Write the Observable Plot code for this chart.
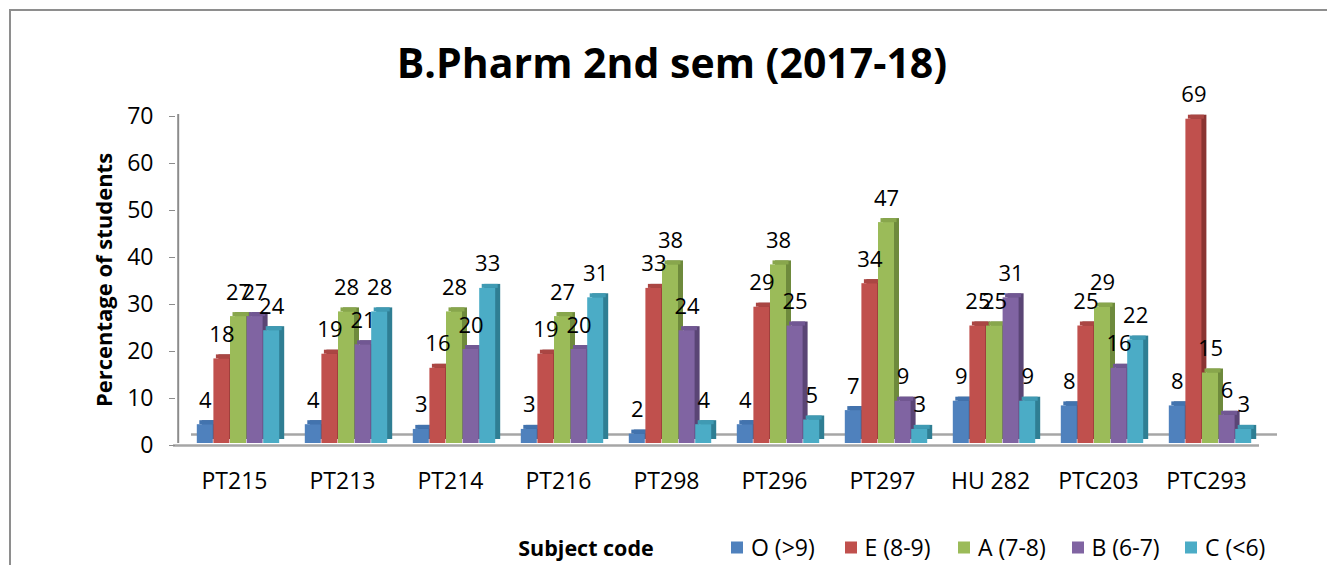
<!DOCTYPE html>
<html>
<head>
<meta charset="utf-8">
<script src="https://cdn.jsdelivr.net/npm/d3@7"></script>
<script src="https://cdn.jsdelivr.net/npm/@observablehq/plot@0.6"></script>
<style>
  html, body { margin: 0; padding: 0; background: #fff; }
  #wrap { position: relative; width: 1327px; height: 565px; overflow: hidden; background: #fff; font-family: "Open Sans", sans-serif; }
  #frame { position: absolute; left: 9px; top: 9px; width: 1340px; height: 600px; border: 2px solid #8e8e8e; box-sizing: border-box; }
  #chart { position: absolute; left: 0; top: 0; }
  #title { position: absolute; left: 672px; top: 62px; transform: translate(-50%, -50%); font-weight: 700; font-size: 41px; white-space: nowrap; color: #000; line-height: 1; }
  #ylabel { position: absolute; left: 103px; top: 280px; transform: translate(-50%, -50%) rotate(-90deg); font-weight: 700; font-size: 22px; white-space: nowrap; line-height: 1; }
  #xlabel { position: absolute; left: 586px; top: 548px; transform: translate(-50%, -50%); font-weight: 700; font-size: 21.5px; white-space: nowrap; line-height: 1; }
  #legend { position: absolute; left: 731px; top: 547px; transform: translateY(-50%); display: flex; align-items: center; font-size: 23px; line-height: 1; }
  #legend .item { display: flex; align-items: center; width: 113.5px; white-space: nowrap; }
  #legend .sw { width: 12px; height: 12px; margin-right: 8px; flex: none; }
</style>
</head>
<body>
<div id="wrap">
  <div id="frame"></div>
  <div id="chart"></div>
  <div id="title">B.Pharm 2nd sem (2017-18)</div>
  <div id="ylabel">Percentage of students</div>
  <div id="xlabel">Subject code</div>
  <div id="legend"></div>
</div>
<script>
const subjects = ["PT215", "PT213", "PT214", "PT216", "PT298", "PT296", "PT297", "HU 282", "PTC203", "PTC293"];
const grades = ["O (>9)", "E (8-9)", "A (7-8)", "B (6-7)", "C (<6)"];
const gradeO = [4, 4, 3, 3, 2, 4, 7, 9, 8, 8];
const gradeE = [18, 19, 16, 19, 33, 29, 34, 25, 25, 69];
const gradeA = [27, 28, 28, 27, 38, 38, 47, 25, 29, 15];
const gradeB = [27, 21, 20, 20, 24, 25, 9, 31, 16, 6];
const gradeC = [24, 28, 33, 31, 4, 5, 3, 9, 22, 3];
const yTicks = [0, 10, 20, 30, 40, 50, 60, 70];

const frontColors = ["#4F81BD", "#C0504D", "#9BBB59", "#8064A2", "#4BACC6"];
const sideColors  = ["#345B8C", "#8A3432", "#6E8A3C", "#5A4575", "#2F7E93"];
const topColors   = ["#4273AE", "#AA4643", "#88A64C", "#715793", "#3F9AB3"];

const series = [gradeO, gradeE, gradeA, gradeB, gradeC];
const rows = [];
series.forEach((vals, gi) => vals.forEach((v, si) => rows.push({subject: subjects[si], grade: grades[gi], value: v})));

const W = 1327, H = 565;
const mL = 181, mR = 60, mT = 114, mB = 122;
const step = (W - mL - mR) / subjects.length;
const barW = 16.6;
const inset = (step - barW) / 2;
const depthX = 5, depthY = 4;

const marks = [];
// floor back edge and wall axis line
marks.push(Plot.ruleY([0], {dy: -9, dx: 10, stroke: "#a6a6a6", strokeWidth: 2.5}));
marks.push(Plot.ruleX([subjects[0]], {x: d => d, y1: 0, y2: 70, dx: -(step / 2 + 6), stroke: "#8c8c8c", strokeWidth: 2}));

grades.forEach((g, i) => {
  const data = rows.filter(r => r.grade === g);
  const off = (i - 2) * barW;
  marks.push(Plot.barY(data, {x: "subject", y: "value", fill: sideColors[i], insetLeft: inset, insetRight: inset, dx: off + depthX, dy: -depthY}));
  marks.push(Plot.barY(data, {x: "subject", y1: "value", y2: "value", fill: topColors[i], insetLeft: inset, insetRight: inset, insetTop: -depthY, dx: off + depthX / 2}));
  marks.push(Plot.barY(data, {x: "subject", y: "value", fill: frontColors[i], insetLeft: inset, insetRight: inset, dx: off}));
});
// floor front edge
marks.push(Plot.ruleY([0], {dy: 2, dx: -8, stroke: "#a6a6a6", strokeWidth: 2.5}));

grades.forEach((g, i) => {
  const data = rows.filter(r => r.grade === g);
  const off = (i - 2) * barW;
  marks.push(Plot.text(data, {x: "subject", y: "value", text: d => String(d.value), dx: off, dy: -24, fontSize: 22, fill: "#000", lineAnchor: "middle"}));
});

marks.push(Plot.axisY({ticks: yTicks, tickSize: 6, tickPadding: 16, dx: -6, dy: 2, fontSize: 23, stroke: "#8c8c8c", fill: "#000", label: null, tickFormat: d => String(d)}));
marks.push(Plot.axisX({tickSize: 0, tickPadding: 29, dx: -4, fontSize: 23, fill: "#000", label: null}));

const chart = Plot.plot({
  width: W,
  height: H,
  marginLeft: mL,
  marginRight: mR,
  marginTop: mT,
  marginBottom: mB,
  style: {fontFamily: "Open Sans, sans-serif", background: "transparent", overflow: "visible"},
  x: {domain: subjects, padding: 0},
  y: {domain: [0, 70]},
  marks
});
document.getElementById("chart").appendChild(chart);

const legend = document.getElementById("legend");
grades.forEach((g, i) => {
  const item = document.createElement("div");
  item.className = "item";
  const sw = document.createElement("div");
  sw.className = "sw";
  sw.style.background = frontColors[i];
  const lab = document.createElement("span");
  lab.textContent = g;
  item.appendChild(sw);
  item.appendChild(lab);
  legend.appendChild(item);
});
</script>
</body>
</html>
